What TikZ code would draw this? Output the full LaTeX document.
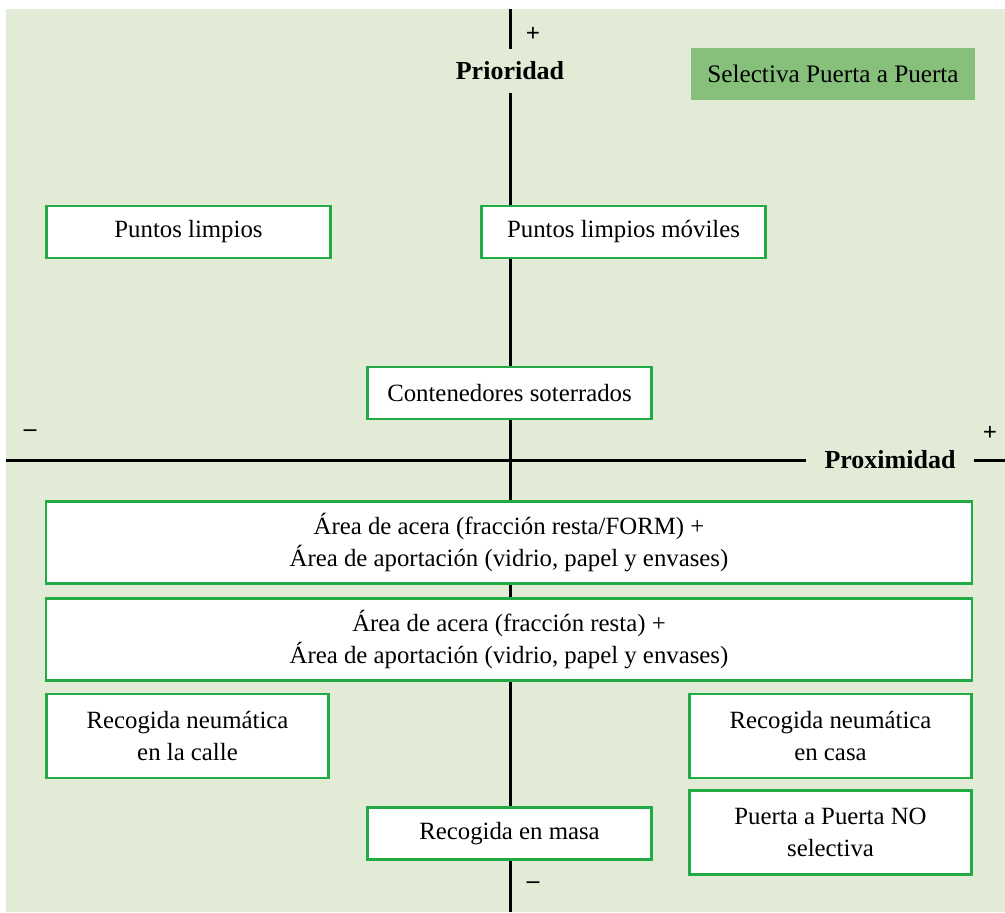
\documentclass[tikz,border=0pt]{standalone}
\usepackage{fontspec}
\setmainfont{Liberation Serif}
\usepackage{tikz}
\definecolor{bggreen}{HTML}{E2EBD6}
\definecolor{boxgreen}{HTML}{22AA44}
\definecolor{selgreen}{HTML}{86C07A}
\tikzset{
  opt/.style={draw=boxgreen,line width=1.4pt,fill=white,align=center,inner sep=0pt,font=\fontsize{12.4}{16}\selectfont},
  axlabel/.style={font=\fontsize{13}{15}\selectfont\bfseries},
  sign/.style={font=\fontsize{12.5}{14}\selectfont\bfseries}
}
\begin{document}
\begin{tikzpicture}[x=0.5pt,y=-0.5pt]
\useasboundingbox (0,0) rectangle (1005,912);
\fill[bggreen] (6,9) rectangle (1005,912);
% axes
\coordinate (Top) at (510,9);
\coordinate (Bot) at (510,912);
\coordinate (Left) at (6,460);
\coordinate (Right) at (1005,460);
\node[axlabel,inner ysep=6pt] (Prio) at (510,71){Prioridad};
\node[axlabel,inner xsep=9pt] (Prox) at (890,460){Proximidad};
\draw[line width=1.5pt] (Top) -- (Prio.north);
\draw[line width=1.5pt] (Prio.south) -- (Bot);
\draw[line width=1.5pt] (Left) -- (Prox.west);
\draw[line width=1.5pt] (Prox.east) -- (Right);
\node[sign] (PlusY) at (533,34){+};
\node[sign] (MinusY) at (533,885){--};
\node[sign] (MinusX) at (30,433){--};
\node[sign] (PlusX) at (990,433){+};
% options
\node[fill=selgreen,minimum width=142pt,minimum height=26pt,font=\fontsize{12.6}{14}\selectfont] (Sel) at (833,74){Selectiva Puerta a Puerta};
\node[opt,minimum width=142pt,minimum height=26pt] (PL) at (188.5,232){Puntos limpios};
\node[opt,minimum width=142pt,minimum height=26pt] (PLM) at (623.5,232){Puntos limpios móviles};
\node[opt,minimum width=142pt,minimum height=26pt] (CS) at (509.5,393){Contenedores soterrados};
\node[opt,minimum width=463pt,minimum height=41pt] (AA1) at (509,542.5){Área de acera (fracción resta/FORM) +\\Área de aportación (vidrio, papel y envases)};
\node[opt,minimum width=463pt,minimum height=41pt] (AA2) at (509,639.5){Área de acera (fracción resta) +\\Área de aportación (vidrio, papel y envases)};
\node[opt,minimum width=141pt,minimum height=42pt] (RNC) at (187.5,736){Recogida neumática\\en la calle};
\node[opt,minimum width=141pt,minimum height=42pt] (RNH) at (830.5,736){Recogida neumática\\en casa};
\node[opt,minimum width=142pt,minimum height=26pt] (RM) at (509.5,833.5){Recogida en masa};
\node[opt,minimum width=141pt,minimum height=42pt] (PPNO) at (830.5,832.5){Puerta a Puerta NO\\selectiva};
\end{tikzpicture}
\end{document}
